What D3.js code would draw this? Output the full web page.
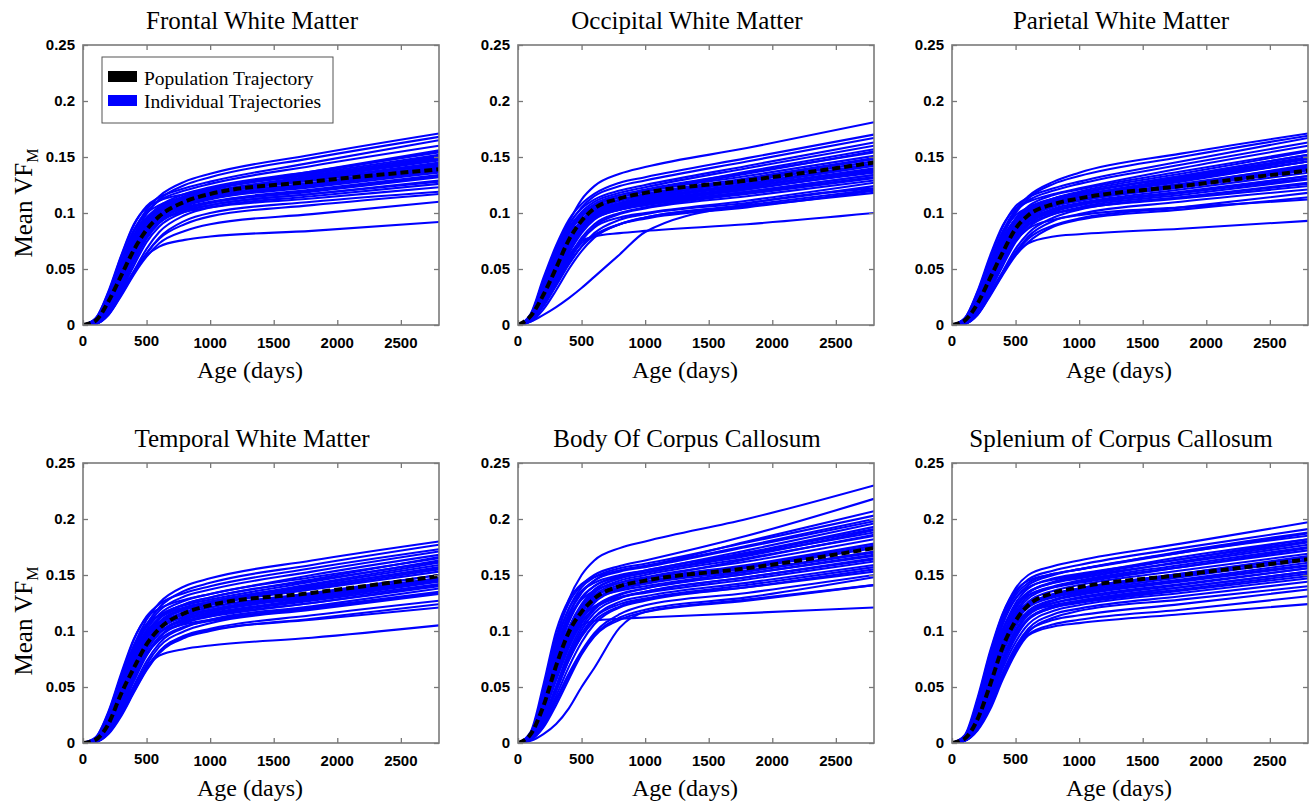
<!DOCTYPE html>
<html>
<head>
<meta charset="utf-8">
<script src="https://cdn.jsdelivr.net/npm/d3@7"></script>
<style>
  body { margin: 0; background: #fff; }
  text { fill: #000; }
</style>
</head>
<body>
<svg id="fig" width="1309" height="807"></svg>
<script>
var ages = [0, 100, 200, 300, 400, 500, 600, 800, 1000, 1800, 2800];
var xTicks = [0, 500, 1000, 1500, 2000, 2500];
var yTicks = [0, 0.05, 0.1, 0.15, 0.2, 0.25];
var yTickLabels = ["0", "0.05", "0.1", "0.15", "0.2", "0.25"];
var titles = ["Frontal White Matter", "Occipital White Matter", "Parietal White Matter",
              "Temporal White Matter", "Body Of Corpus Callosum", "Splenium of Corpus Callosum"];
var legendLabels = ["Population Trajectory", "Individual Trajectories"];

// Frontal
var frontalPop = [0, .004, .021, .044, .067, .085, .097, .110, .117, .128, .139];
var frontalLines = [
  [0, .005, .026, .056, .084, .103, .115, .128, .135, .152, .171],
  [0, .004, .023, .052, .080, .099, .112, .125, .132, .149, .168],
  [0, .006, .029, .061, .089, .106, .114, .122, .128, .145, .165],
  [0, .004, .024, .054, .083, .101, .111, .120, .126, .142, .160],
  [0, .006, .030, .062, .090, .105, .111, .117, .122, .137, .156],
  [0, .003, .020, .047, .075, .095, .106, .117, .123, .137, .154],
  [0, .003, .019, .045, .072, .092, .104, .115, .121, .134, .150],
  [0, .005, .027, .057, .085, .100, .107, .114, .119, .131, .147],
  [0, .003, .017, .041, .067, .088, .100, .112, .118, .130, .145],
  [0, .003, .016, .038, .063, .084, .097, .109, .115, .127, .142],
  [0, .004, .024, .052, .078, .095, .103, .111, .115, .125, .137],
  [0, .002, .013, .034, .058, .079, .093, .106, .112, .123, .136],
  [0, .002, .014, .036, .061, .081, .094, .104, .109, .119, .132],
  [0, .002, .012, .031, .053, .074, .088, .101, .107, .117, .129],
  [0, .001, .010, .028, .048, .068, .083, .098, .105, .115, .126],
  [0, .004, .020, .045, .069, .086, .094, .101, .105, .113, .123],
  [0, .001, .009, .027, .046, .064, .078, .093, .100, .110, .119],
  [0, .001, .010, .028, .047, .064, .077, .090, .097, .107, .117],
  [0, .001, .009, .026, .045, .061, .073, .084, .090, .099, .110],
  [0, .002, .012, .030, .048, .062, .070, .076, .079, .084, .092],
  [0, .003, .016, .040, .065, .083, .095, .107, .113, .126, .140],
  [0, .003, .018, .044, .070, .090, .102, .113, .120, .135, .152],
  [0, .003, .017, .042, .068, .087, .098, .108, .113, .124, .138],
  [0, .002, .015, .038, .064, .085, .098, .111, .118, .132, .149],
  [0, .004, .022, .049, .075, .093, .104, .114, .119, .133, .151],
  [0, .003, .018, .043, .069, .089, .101, .112, .117, .129, .144],
  [0, .004, .021, .047, .072, .090, .101, .110, .114, .126, .141],
  [0, .002, .015, .037, .062, .083, .096, .107, .113, .125, .139],
  [0, .003, .017, .040, .065, .084, .095, .105, .110, .121, .134],
  [0, .002, .013, .033, .056, .077, .091, .103, .109, .120, .133],
  [0, .002, .014, .035, .059, .078, .091, .102, .107, .117, .128],
  [0, .005, .025, .053, .079, .096, .105, .114, .118, .131, .148],
  [0, .003, .019, .044, .071, .091, .103, .115, .121, .136, .155],
  [0, .002, .014, .036, .061, .082, .096, .109, .116, .129, .143]
];

// Occipital
var occipitalPop = [0, .008, .027, .051, .076, .093, .104, .113, .118, .129, .145];
var occipitalLines = [
  [0, .009, .040, .068, .092, .112, .124, .135, .141, .158, .181],
  [0, .010, .042, .071, .094, .108, .117, .127, .132, .149, .170],
  [0, .008, .036, .065, .089, .105, .115, .124, .129, .146, .167],
  [0, .009, .038, .067, .090, .104, .112, .120, .125, .142, .163],
  [0, .008, .034, .062, .086, .101, .110, .118, .123, .140, .160],
  [0, .009, .037, .065, .087, .100, .107, .114, .119, .135, .155],
  [0, .007, .030, .056, .081, .097, .106, .114, .119, .133, .151],
  [0, .008, .033, .060, .083, .097, .104, .111, .115, .130, .148],
  [0, .006, .026, .050, .075, .092, .102, .111, .116, .129, .146],
  [0, .007, .029, .055, .078, .093, .101, .108, .112, .125, .142],
  [0, .006, .025, .048, .072, .089, .099, .107, .111, .123, .139],
  [0, .005, .022, .044, .068, .086, .097, .105, .109, .121, .137],
  [0, .007, .028, .053, .075, .089, .097, .103, .107, .119, .134],
  [0, .005, .021, .042, .064, .082, .094, .103, .107, .118, .132],
  [0, .004, .018, .037, .057, .075, .088, .099, .104, .115, .129],
  [0, .005, .020, .040, .060, .076, .087, .096, .100, .111, .127],
  [0, .004, .017, .035, .054, .070, .082, .094, .099, .109, .124],
  [0, .004, .017, .036, .055, .070, .080, .090, .095, .105, .120],
  [0, .003, .014, .031, .050, .066, .078, .090, .096, .106, .118],
  [0, .005, .022, .042, .062, .075, .079, .082, .084, .090, .100],
  [0, .004, .018, .038, .058, .073, .080, .090, .096, .107, .121],
  [0, .003, .009, .016, .024, .033, .043, .063, .083, .108, .122],
  [0, .006, .026, .050, .073, .090, .100, .109, .113, .126, .144],
  [0, .006, .024, .047, .070, .087, .098, .107, .112, .124, .140],
  [0, .007, .031, .058, .082, .098, .107, .116, .121, .136, .154],
  [0, .006, .027, .052, .077, .094, .104, .112, .117, .131, .149],
  [0, .007, .028, .053, .076, .091, .100, .108, .112, .126, .144],
  [0, .005, .023, .046, .070, .088, .099, .108, .113, .126, .143],
  [0, .006, .025, .048, .070, .086, .095, .103, .108, .121, .138],
  [0, .005, .021, .043, .066, .084, .096, .106, .110, .122, .136],
  [0, .004, .019, .039, .060, .078, .090, .100, .105, .117, .131],
  [0, .008, .034, .062, .085, .099, .108, .116, .120, .137, .157],
  [0, .006, .026, .051, .075, .091, .101, .109, .114, .128, .146],
  [0, .005, .022, .045, .068, .085, .096, .104, .108, .119, .134]
];

// Parietal
var parietalPop = [0, .004, .019, .042, .065, .086, .098, .108, .113, .124, .138];
var parietalLines = [
  [0, .005, .026, .056, .084, .103, .115, .128, .136, .153, .171],
  [0, .004, .023, .052, .080, .100, .113, .126, .133, .150, .169],
  [0, .006, .029, .060, .088, .106, .114, .122, .128, .146, .167],
  [0, .004, .024, .054, .082, .101, .111, .120, .126, .143, .163],
  [0, .006, .030, .062, .089, .104, .110, .117, .122, .140, .160],
  [0, .003, .020, .047, .075, .095, .106, .116, .121, .137, .156],
  [0, .003, .019, .045, .072, .092, .103, .113, .118, .133, .152],
  [0, .005, .026, .056, .083, .098, .105, .112, .116, .130, .148],
  [0, .003, .017, .041, .066, .087, .099, .109, .114, .128, .146],
  [0, .003, .016, .038, .062, .083, .096, .107, .112, .125, .143],
  [0, .004, .023, .051, .076, .093, .101, .108, .112, .123, .139],
  [0, .002, .013, .034, .058, .079, .092, .104, .109, .121, .136],
  [0, .002, .014, .036, .060, .080, .092, .102, .107, .118, .133],
  [0, .002, .012, .031, .053, .074, .087, .099, .105, .116, .130],
  [0, .001, .010, .028, .048, .068, .082, .096, .103, .114, .127],
  [0, .004, .020, .045, .068, .085, .093, .100, .104, .113, .124],
  [0, .001, .009, .027, .046, .065, .079, .093, .099, .110, .121],
  [0, .001, .010, .028, .047, .064, .077, .089, .095, .105, .118],
  [0, .001, .009, .026, .045, .062, .074, .088, .094, .103, .114],
  [0, .002, .012, .029, .047, .063, .073, .079, .081, .086, .093],
  [0, .003, .016, .040, .064, .084, .095, .106, .111, .124, .140],
  [0, .003, .018, .043, .069, .089, .101, .111, .117, .132, .150],
  [0, .002, .014, .035, .057, .075, .086, .094, .098, .105, .112],
  [0, .002, .015, .038, .063, .084, .097, .108, .114, .129, .146],
  [0, .004, .022, .049, .074, .093, .104, .113, .118, .133, .152],
  [0, .003, .018, .043, .068, .088, .100, .110, .115, .129, .146],
  [0, .004, .021, .047, .071, .089, .099, .107, .111, .124, .141],
  [0, .002, .015, .037, .061, .082, .095, .106, .111, .123, .138],
  [0, .003, .017, .040, .064, .083, .094, .103, .108, .119, .133],
  [0, .002, .013, .033, .056, .077, .090, .101, .107, .118, .131],
  [0, .002, .014, .035, .058, .077, .089, .099, .104, .114, .126],
  [0, .005, .025, .053, .078, .095, .104, .112, .116, .131, .149],
  [0, .003, .019, .044, .070, .090, .102, .113, .119, .135, .155],
  [0, .002, .014, .036, .060, .081, .095, .106, .112, .126, .142]
];

// Temporal
var temporalPop = [0, .003, .017, .044, .067, .088, .102, .116, .123, .134, .149];
var temporalLines = [
  [0, .004, .024, .055, .087, .110, .125, .140, .147, .163, .180],
  [0, .004, .022, .052, .083, .106, .121, .136, .143, .159, .177],
  [0, .005, .027, .060, .092, .113, .124, .134, .140, .156, .173],
  [0, .003, .020, .049, .080, .104, .118, .131, .137, .153, .171],
  [0, .005, .028, .062, .093, .112, .120, .128, .133, .150, .168],
  [0, .003, .019, .047, .077, .101, .115, .127, .133, .148, .165],
  [0, .003, .018, .045, .074, .098, .112, .124, .130, .145, .162],
  [0, .004, .025, .057, .087, .106, .114, .121, .126, .141, .159],
  [0, .002, .016, .041, .069, .093, .108, .120, .126, .140, .156],
  [0, .002, .015, .039, .066, .090, .105, .117, .123, .137, .153],
  [0, .004, .023, .053, .081, .099, .108, .115, .119, .133, .150],
  [0, .002, .013, .035, .061, .085, .101, .113, .119, .132, .147],
  [0, .002, .013, .034, .060, .083, .098, .110, .115, .128, .144],
  [0, .002, .011, .030, .055, .078, .094, .107, .113, .125, .141],
  [0, .001, .010, .028, .051, .073, .089, .103, .110, .122, .138],
  [0, .003, .019, .045, .071, .089, .099, .106, .110, .121, .135],
  [0, .001, .009, .026, .048, .070, .086, .100, .107, .119, .133],
  [0, .001, .009, .026, .047, .067, .082, .096, .102, .114, .127],
  [0, .001, .008, .024, .045, .065, .080, .094, .100, .111, .124],
  [0, .002, .011, .029, .050, .068, .078, .084, .087, .094, .105],
  [0, .001, .009, .025, .046, .066, .081, .095, .101, .110, .121],
  [0, .003, .017, .042, .070, .093, .107, .119, .125, .139, .157],
  [0, .002, .014, .037, .064, .088, .103, .115, .121, .134, .150],
  [0, .003, .018, .044, .072, .094, .106, .116, .121, .133, .147],
  [0, .003, .020, .048, .077, .099, .111, .121, .126, .142, .161],
  [0, .002, .017, .043, .072, .095, .108, .119, .124, .138, .155],
  [0, .003, .020, .047, .075, .094, .104, .112, .116, .129, .145],
  [0, .002, .014, .037, .064, .087, .101, .113, .118, .131, .146],
  [0, .002, .016, .040, .067, .087, .099, .109, .113, .125, .140],
  [0, .001, .011, .031, .057, .080, .095, .108, .114, .127, .142],
  [0, .002, .012, .033, .058, .079, .092, .104, .109, .120, .134],
  [0, .004, .024, .055, .085, .104, .114, .123, .128, .144, .163],
  [0, .002, .016, .042, .071, .096, .111, .124, .130, .146, .166],
  [0, .001, .012, .034, .060, .083, .098, .111, .117, .130, .145]
];

// Body of corpus callosum
var bodyPop = [0, .008, .033, .069, .099, .117, .129, .140, .145, .156, .174];
var bodyLines = [
  [0, .008, .045, .092, .128, .150, .163, .174, .180, .200, .230],
  [0, .009, .048, .095, .125, .141, .150, .158, .163, .185, .218],
  [0, .010, .052, .100, .128, .142, .148, .154, .158, .180, .207],
  [0, .008, .044, .088, .120, .139, .148, .156, .160, .179, .203],
  [0, .008, .040, .082, .114, .134, .145, .154, .158, .176, .200],
  [0, .009, .046, .090, .120, .136, .143, .150, .154, .172, .196],
  [0, .007, .036, .076, .108, .129, .140, .149, .154, .170, .193],
  [0, .007, .034, .072, .103, .124, .137, .147, .152, .167, .190],
  [0, .008, .040, .082, .112, .128, .136, .143, .147, .164, .186],
  [0, .006, .030, .066, .097, .119, .132, .143, .148, .162, .182],
  [0, .006, .029, .063, .094, .116, .130, .141, .146, .159, .178],
  [0, .007, .035, .073, .103, .121, .131, .139, .143, .156, .174],
  [0, .005, .026, .058, .088, .110, .125, .137, .142, .154, .171],
  [0, .005, .025, .056, .085, .107, .121, .133, .138, .151, .168],
  [0, .004, .021, .049, .078, .101, .116, .129, .135, .148, .165],
  [0, .006, .031, .066, .095, .112, .122, .130, .134, .146, .162],
  [0, .004, .020, .046, .074, .096, .112, .126, .131, .143, .159],
  [0, .004, .018, .042, .068, .090, .106, .121, .127, .139, .155],
  [0, .003, .016, .039, .062, .082, .098, .115, .123, .134, .150],
  [0, .003, .015, .037, .060, .080, .096, .112, .119, .130, .148],
  [0, .002, .008, .017, .031, .050, .067, .103, .117, .128, .141],
  [0, .006, .030, .064, .090, .105, .109, .111, .112, .116, .121],
  [0, .003, .014, .034, .057, .079, .095, .110, .117, .127, .141],
  [0, .005, .027, .060, .090, .112, .126, .138, .143, .157, .176],
  [0, .007, .037, .078, .110, .130, .140, .148, .152, .168, .188],
  [0, .006, .032, .069, .100, .121, .134, .145, .150, .165, .185],
  [0, .007, .034, .070, .100, .118, .128, .136, .140, .153, .170],
  [0, .005, .027, .060, .091, .113, .127, .139, .144, .158, .176],
  [0, .005, .027, .059, .088, .108, .120, .130, .135, .148, .164],
  [0, .004, .022, .051, .081, .104, .119, .132, .138, .151, .167],
  [0, .004, .021, .048, .076, .098, .112, .124, .129, .141, .157],
  [0, .008, .041, .084, .116, .135, .145, .153, .157, .175, .198],
  [0, .006, .031, .067, .099, .122, .136, .147, .152, .169, .191],
  [0, .004, .020, .047, .074, .095, .109, .122, .128, .139, .153]
];

// Splenium of corpus callosum
var spleniumPop = [0, .004, .021, .052, .086, .109, .123, .134, .139, .150, .164];
var spleniumLines = [
  [0, .006, .038, .080, .115, .138, .150, .158, .163, .178, .197],
  [0, .006, .036, .077, .112, .134, .146, .154, .159, .174, .191],
  [0, .007, .040, .082, .116, .136, .145, .151, .155, .171, .188],
  [0, .005, .032, .071, .106, .129, .141, .150, .155, .170, .185],
  [0, .006, .034, .074, .108, .129, .139, .146, .150, .166, .182],
  [0, .005, .030, .067, .101, .125, .138, .147, .151, .164, .180],
  [0, .004, .027, .062, .096, .120, .134, .143, .148, .161, .177],
  [0, .005, .031, .069, .102, .122, .132, .139, .143, .157, .174],
  [0, .004, .024, .057, .091, .115, .129, .139, .144, .157, .172],
  [0, .004, .023, .055, .088, .112, .126, .136, .141, .154, .169],
  [0, .005, .028, .063, .095, .115, .125, .132, .136, .150, .166],
  [0, .003, .020, .050, .083, .107, .122, .132, .137, .149, .163],
  [0, .003, .019, .048, .080, .104, .118, .128, .133, .145, .159],
  [0, .003, .017, .044, .075, .099, .114, .125, .130, .142, .156],
  [0, .004, .024, .056, .087, .106, .116, .123, .127, .139, .153],
  [0, .002, .015, .040, .070, .094, .110, .121, .126, .137, .151],
  [0, .002, .014, .038, .067, .090, .106, .118, .123, .134, .147],
  [0, .002, .013, .035, .063, .086, .102, .115, .120, .131, .144],
  [0, .002, .012, .033, .060, .083, .099, .112, .118, .128, .140],
  [0, .002, .013, .034, .062, .085, .100, .110, .114, .124, .137],
  [0, .002, .012, .032, .059, .082, .097, .106, .110, .119, .131],
  [0, .002, .011, .030, .057, .080, .096, .104, .107, .115, .124],
  [0, .004, .022, .053, .085, .109, .123, .133, .138, .151, .167],
  [0, .003, .021, .052, .084, .108, .121, .130, .134, .146, .161],
  [0, .005, .029, .066, .100, .123, .135, .143, .147, .162, .179],
  [0, .004, .025, .059, .093, .117, .131, .140, .145, .159, .175],
  [0, .004, .026, .060, .092, .113, .124, .131, .135, .148, .164],
  [0, .003, .021, .052, .085, .109, .123, .133, .138, .151, .166],
  [0, .003, .022, .053, .085, .106, .117, .125, .129, .141, .156],
  [0, .002, .017, .044, .076, .101, .116, .127, .132, .144, .158],
  [0, .002, .016, .042, .073, .097, .111, .121, .125, .136, .149],
  [0, .006, .035, .076, .110, .132, .143, .151, .155, .170, .187],
  [0, .004, .026, .061, .096, .120, .134, .144, .149, .164, .182],
  [0, .002, .015, .040, .071, .096, .111, .122, .127, .139, .153]
];

var pops = [frontalPop, occipitalPop, parietalPop, temporalPop, bodyPop, spleniumPop];
var lineSets = [frontalLines, occipitalLines, parietalLines, temporalLines, bodyLines, spleniumLines];

// layout
var lefts = [83, 518, 952],
    tops = [45, 463],
    w = 356,
    h = 280;

var svg = d3.select('#fig');
var serif = '"Liberation Serif", "Times New Roman", serif',
    sans = '"Liberation Sans", Arial, sans-serif';

var x = d3.scaleLinear().domain([0, 2800]).range([0, w]);
var y = d3.scaleLinear().domain([0, 0.25]).range([h, 0]);

var line = d3.line()
    .curve(d3.curveMonotoneX)
    .x(function (d, i) { return x(ages[i]); })
    .y(function (d) { return y(d); });

for (var p = 0; p < 6; p++) {
    var col = p % 3, row = Math.floor(p / 3);
    var g = svg.append('g')
        .attr('transform', 'translate(' + lefts[col] + ',' + tops[row] + ')');

    g.append('clipPath').attr('id', 'clip' + p)
      .append('rect').attr('width', w).attr('height', h);

    var plot = g.append('g').attr('clip-path', 'url(#clip' + p + ')');

    plot.selectAll('path.ind')
        .data(lineSets[p])
        .enter().append('path')
        .attr('class', 'ind')
        .attr('d', line)
        .attr('fill', 'none')
        .attr('stroke', '#0000ff')
        .attr('stroke-width', 2.1);

    plot.append('path')
        .datum(pops[p])
        .attr('d', line)
        .attr('fill', 'none')
        .attr('stroke', '#000')
        .attr('stroke-width', 4)
        .attr('stroke-dasharray', '8,4');

    // axes: ticks inward on all four sides
    var axB = g.append('g').attr('transform', 'translate(0,' + h + ')')
        .call(d3.axisBottom(x).tickValues(xTicks).tickSizeInner(-5).tickSizeOuter(0).tickFormat(''));
    var axT = g.append('g')
        .call(d3.axisTop(x).tickValues(xTicks).tickSizeInner(-5).tickSizeOuter(0).tickFormat(''));
    var axL = g.append('g')
        .call(d3.axisLeft(y).tickValues(yTicks).tickSizeInner(-5).tickSizeOuter(0).tickFormat(''));
    var axR = g.append('g').attr('transform', 'translate(' + w + ',0)')
        .call(d3.axisRight(y).tickValues(yTicks).tickSizeInner(-5).tickSizeOuter(0).tickFormat(''));
    [axB, axT, axL, axR].forEach(function (a) {
        a.selectAll('line').attr('stroke', '#777').attr('stroke-width', 1.3);
        a.select('.domain').remove();
    });

    g.append('rect')
        .attr('width', w).attr('height', h)
        .attr('fill', 'none')
        .attr('stroke', '#7a7a7a')
        .attr('stroke-width', 1.6);

    // tick labels
    g.selectAll('text.xt')
        .data(xTicks)
        .enter().append('text')
        .attr('class', 'xt')
        .attr('x', function (d) { return x(d); })
        .attr('y', function (d) { return h + (d >= 1000 ? 23 : 21); })
        .attr('text-anchor', 'middle')
        .style('font-family', sans).style('font-weight', 'bold').style('font-size', '15px')
        .text(function (d) { return d; });

    g.selectAll('text.yt')
        .data(yTicks)
        .enter().append('text')
        .attr('class', 'yt')
        .attr('x', -8)
        .attr('y', function (d) { return y(d); })
        .attr('dy', '0.36em')
        .attr('text-anchor', 'end')
        .style('font-family', sans).style('font-weight', 'bold').style('font-size', '15px')
        .text(function (d, i) { return yTickLabels[i]; });

    // title and x label
    g.append('text')
        .attr('x', w / 2 - 9)
        .attr('y', -16)
        .attr('text-anchor', 'middle')
        .style('font-family', serif).style('font-size', '25px')
        .text(titles[p]);

    g.append('text')
        .attr('x', w / 2 - 11)
        .attr('y', h + 53)
        .attr('text-anchor', 'middle')
        .style('font-family', serif).style('font-size', '24px')
        .text('Age (days)');

    if (col === 0) {
        var yl = g.append('text')
            .attr('transform', 'translate(' + (32 - lefts[col]) + ',' + (h / 2 + 18) + ') rotate(-90)')
            .attr('text-anchor', 'middle')
            .style('font-family', serif).style('font-size', '25px');
        yl.append('tspan').text('Mean VF');
        yl.append('tspan').attr('dy', 6).style('font-size', '16px').text('M');
    }

    // legend only in the first panel
    if (p === 0) {
        var lg = g.append('g').attr('transform', 'translate(' + (102 - lefts[0]) + ',' + (57 - tops[0]) + ')');
        lg.append('rect')
            .attr('width', 231).attr('height', 66)
            .attr('fill', '#fff').attr('stroke', '#555').attr('stroke-width', 1);
        var swatch = ['#000', '#0000ff'];
        legendLabels.forEach(function (t, i) {
            lg.append('rect')
                .attr('x', 6).attr('y', 14 + i * 24)
                .attr('width', 29).attr('height', 11)
                .attr('fill', swatch[i]);
            lg.append('text')
                .attr('x', 42).attr('y', 28 + i * 23)
                .style('font-family', serif).style('font-size', '19.5px')
                .text(t);
        });
    }
}
</script>
</body>
</html>
